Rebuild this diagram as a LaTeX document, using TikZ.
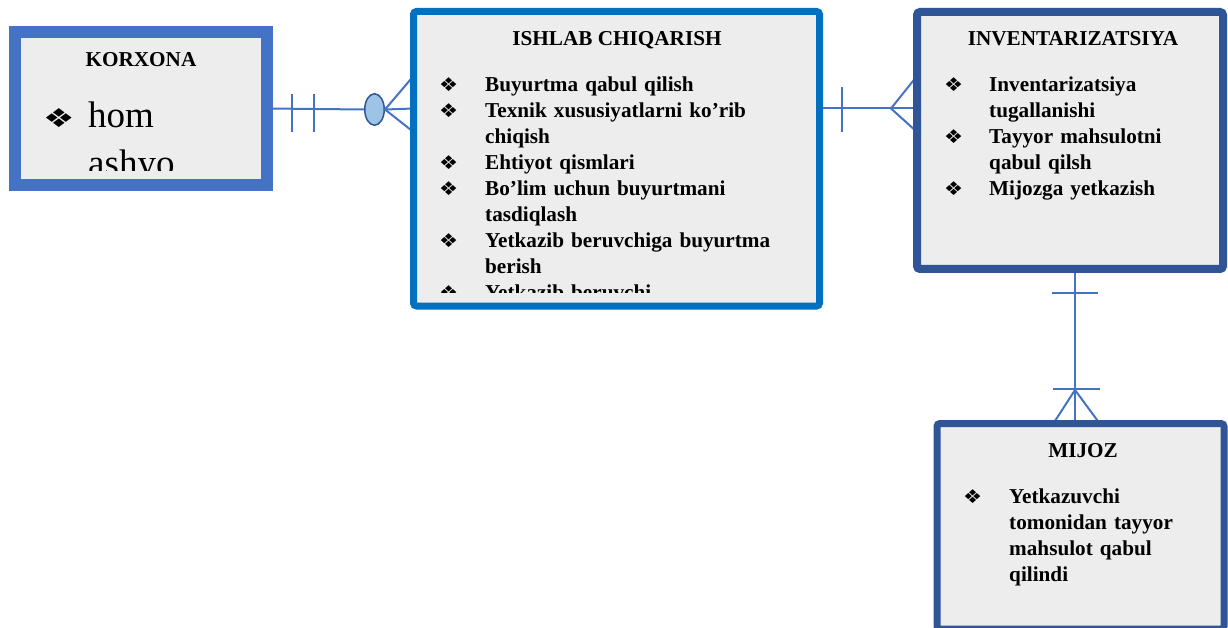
\documentclass[tikz,border=0pt]{standalone}
\usepackage{graphicx}
\usepackage{fontspec}
\setmainfont{Liberation Serif}
\newfontfamily\djv{DejaVu Sans}
\usetikzlibrary{shapes.geometric}
\definecolor{korB}{HTML}{4472C4}
\definecolor{ishB}{HTML}{0070C0}
\definecolor{invB}{HTML}{2F5597}
\definecolor{boxfill}{HTML}{EDEDED}
\definecolor{connC}{HTML}{4472C4}
\definecolor{ellF}{HTML}{9DC3E6}
\newcommand\dmd[2]{{\djv\fontsize{#1}{#1}\selectfont\scalebox{#2}[1]{❖}}}
\newcommand\bl[2][46pt]{\makebox[#1][l]{\dmd{19}{1.12}}#2}
\newcommand\cl[2][46pt]{\hspace*{#1}#2}
\tikzset{
  erbox/.style={rectangle, fill=boxfill, inner sep=0pt, outer sep=0pt},
  conn/.style={draw=connC, line width=2pt},
  ttl/.style={font=\bfseries\fontsize{21.2}{26}\selectfont, inner sep=0pt},
  items/.style={font=\bfseries\fontsize{21.2}{26}\selectfont, inner sep=0pt, align=left, anchor=base west}
}
\begin{document}
\begin{tikzpicture}[x=1pt,y=-1pt]
\useasboundingbox (0,0) rectangle (1228,628);
\fill[white] (0,0) rectangle (1228,628);

\coordinate (c3) at (1075,0);

\path (141,108.5) node[erbox, minimum width=252pt, minimum height=153pt] (k) {};
\path (616.5,158.75) node[erbox, minimum width=406pt, minimum height=294.5pt] (i) {};
\path (1070,140.5) node[erbox, minimum width=306pt, minimum height=257pt] (v) {};
\path (1080.5,526.25) node[erbox, minimum width=287pt, minimum height=205.5pt] (m) {};

% connector 1: KORXONA -- ISHLAB
\node[ellipse, draw=invB, fill=ellF, line width=1.5pt, minimum width=19.5pt, minimum height=31.5pt, inner sep=0pt] (e) at (374.5,109.5) {};
\draw[conn] (k.east) -- (e.west);
\draw[conn] (e.east) -- (k.east -| i.west);
\draw[conn] (292,94) -- (292,132);
\draw[conn] (314,94) -- (314,132);
\draw[conn] (413.5,76) -- (e.east) -- (413.5,132);

% connector 2: ISHLAB -- INVENTARIZATSIYA
\draw[conn] (i.east |- k.east) -- (v.west |- k.east);
\draw[conn] (842,87) -- (842,132);
\draw[conn] (917,76) -- (891,108.5) -- (917,132);

% connector 3: INVENTARIZATSIYA -- MIJOZ
\draw[conn] (v.south -| c3) -- (m.north -| c3);
\draw[conn] (1052,293) -- (1098,293);
\draw[conn] (1053,389) -- (1100,389);
\draw[conn] (1053,424) -- (1075,390) -- (1100,424);

% boxes drawn on top
\draw[korB, line width=12pt, fill=boxfill] (k.north west) rectangle (k.south east);
\draw[ishB, line width=7pt, fill=boxfill, rounded corners=3pt] (i.north west) rectangle (i.south east);
\draw[invB, line width=8pt, fill=boxfill, rounded corners=3pt] (v.north west) rectangle (v.south east);
\draw[invB, line width=7pt, fill=boxfill, rounded corners=3pt] (m.north west) rectangle (m.south east);

% KORXONA text
\begin{scope}
\clip (21,38) rectangle (262,171);
\node[ttl, anchor=base] (kt) at (141,67) {KORXONA};
\node[anchor=base west, inner sep=0pt, align=left, text width=215pt, font=\fontsize{37}{48}\selectfont] (kl) at (43,128)
  {\makebox[45pt][l]{\dmd{26}{1.35}}hom\\ \hspace*{45pt}ashyo};
\end{scope}

% ISHLAB CHIQARISH text
\begin{scope}
\clip (417,16) rectangle (816,292);
\node[ttl, anchor=base] (it) at (617,46) {ISHLAB CHIQARISH};
\node[items, text width=370pt] (il) at (439,92) {%
\bl{Buyurtma qabul qilish}\\
\bl{Texnik xususiyatlarni ko’rib}\\
\cl{chiqish}\\
\bl{Ehtiyot qismlari}\\
\bl{Bo’lim uchun buyurtmani}\\
\cl{tasdiqlash}\\
\bl{Yetkazib beruvchiga buyurtma}\\
\cl{berish}\\
\bl{Yetkazib beruvchi}};
\end{scope}

% INVENTARIZATSIYA text
\node[ttl, anchor=base] (vt) at (1073,46) {INVENTARIZATSIYA};
\node[items, text width=270pt, font=\bfseries\fontsize{21.2}{25.9}\selectfont] (vl) at (944,92) {%
\bl[45pt]{Inventarizatsiya}\\
\cl[45pt]{tugallanishi}\\
\bl[45pt]{Tayyor mahsulotni}\\
\cl[45pt]{qabul qilsh}\\
\bl[45pt]{Mijozga yetkazish}};

% MIJOZ text
\node[ttl, anchor=base] (mt) at (1083,457) {MIJOZ};
\node[items, text width=250pt] (ml) at (963,503) {%
\bl{Yetkazuvchi}\\
\cl{tomonidan tayyor}\\
\cl{mahsulot qabul}\\
\cl{qilindi}};
\end{tikzpicture}
\end{document}
